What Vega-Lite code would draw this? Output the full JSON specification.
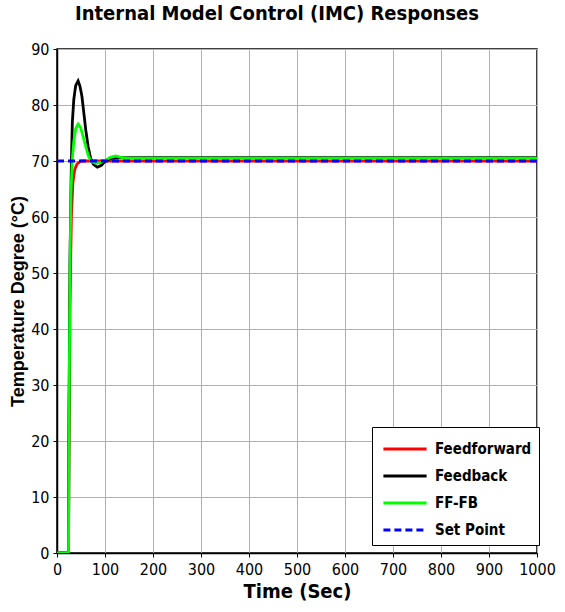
{
  "$schema": "https://vega.github.io/schema/vega-lite/v6.json",
  "width": 480,
  "height": 504,
  "autosize": "none",
  "padding": {"left": 57, "top": 49, "right": 28, "bottom": 59},
  "background": "white",
  "title": {
    "text": "Internal Model Control (IMC) Responses",
    "font": "DejaVu Sans Condensed, Liberation Sans, sans-serif",
    "fontSize": 20,
    "fontWeight": "bold",
    "color": "black",
    "offset": 17,
    "dx": -20
  },
  "config": {
    "view": {"stroke": "black", "strokeWidth": 1.5},
    "axis": {
      "labelFont": "DejaVu Sans Condensed, Liberation Sans, sans-serif",
      "labelFontSize": 16,
      "labelColor": "black",
      "domainColor": "black",
      "domainWidth": 1.5,
      "tickColor": "black",
      "tickSize": 4,
      "gridColor": "#b0b0b0",
      "gridWidth": 1,
      "gridOpacity": 1
    }
  },
  "data": {
    "values": [
      {"t": 0, "v": 0, "s": "Feedforward"},
      {"t": 24, "v": 0, "s": "Feedforward"},
      {"t": 25, "v": 20, "s": "Feedforward"},
      {"t": 27, "v": 45, "s": "Feedforward"},
      {"t": 30, "v": 60, "s": "Feedforward"},
      {"t": 33, "v": 66, "s": "Feedforward"},
      {"t": 37, "v": 68.5, "s": "Feedforward"},
      {"t": 42, "v": 69.5, "s": "Feedforward"},
      {"t": 50, "v": 70, "s": "Feedforward"},
      {"t": 1000, "v": 70, "s": "Feedforward"},

      {"t": 0, "v": 0, "s": "Feedback"},
      {"t": 24, "v": 0, "s": "Feedback"},
      {"t": 25, "v": 25, "s": "Feedback"},
      {"t": 27, "v": 52, "s": "Feedback"},
      {"t": 30, "v": 70, "s": "Feedback"},
      {"t": 32, "v": 77, "s": "Feedback"},
      {"t": 35, "v": 81, "s": "Feedback"},
      {"t": 39, "v": 83.5, "s": "Feedback"},
      {"t": 44, "v": 84.3, "s": "Feedback"},
      {"t": 48, "v": 83.3, "s": "Feedback"},
      {"t": 52, "v": 81.5, "s": "Feedback"},
      {"t": 56, "v": 78.5, "s": "Feedback"},
      {"t": 60, "v": 75.5, "s": "Feedback"},
      {"t": 65, "v": 72.5, "s": "Feedback"},
      {"t": 70, "v": 70.5, "s": "Feedback"},
      {"t": 76, "v": 69.4, "s": "Feedback"},
      {"t": 84, "v": 68.9, "s": "Feedback"},
      {"t": 92, "v": 69.2, "s": "Feedback"},
      {"t": 100, "v": 69.9, "s": "Feedback"},
      {"t": 110, "v": 70.4, "s": "Feedback"},
      {"t": 125, "v": 70.6, "s": "Feedback"},
      {"t": 1000, "v": 70.6, "s": "Feedback"},

      {"t": 0, "v": 0, "s": "FF-FB"},
      {"t": 24, "v": 0, "s": "FF-FB"},
      {"t": 25, "v": 22, "s": "FF-FB"},
      {"t": 27, "v": 50, "s": "FF-FB"},
      {"t": 29, "v": 64, "s": "FF-FB"},
      {"t": 32, "v": 70.5, "s": "FF-FB"},
      {"t": 35, "v": 73.5, "s": "FF-FB"},
      {"t": 39, "v": 75.8, "s": "FF-FB"},
      {"t": 44, "v": 76.6, "s": "FF-FB"},
      {"t": 49, "v": 76, "s": "FF-FB"},
      {"t": 54, "v": 74.5, "s": "FF-FB"},
      {"t": 60, "v": 72.5, "s": "FF-FB"},
      {"t": 66, "v": 70.8, "s": "FF-FB"},
      {"t": 72, "v": 69.9, "s": "FF-FB"},
      {"t": 80, "v": 69.6, "s": "FF-FB"},
      {"t": 90, "v": 69.7, "s": "FF-FB"},
      {"t": 100, "v": 70.1, "s": "FF-FB"},
      {"t": 110, "v": 70.6, "s": "FF-FB"},
      {"t": 122, "v": 70.9, "s": "FF-FB"},
      {"t": 135, "v": 70.6, "s": "FF-FB"},
      {"t": 150, "v": 70.5, "s": "FF-FB"},
      {"t": 1000, "v": 70.5, "s": "FF-FB"},

      {"t": 0, "v": 70, "s": "Set Point"},
      {"t": 1000, "v": 70, "s": "Set Point"}
    ]
  },
  "mark": {"type": "line", "strokeWidth": 2.8, "clip": true},
  "encoding": {
    "x": {
      "field": "t",
      "type": "quantitative",
      "scale": {"domain": [0, 1000], "nice": false},
      "axis": {
        "values": [0, 100, 200, 300, 400, 500, 600, 700, 800, 900, 1000],
        "format": "d",
        "title": "Time (Sec)",
        "titleFont": "DejaVu Sans Condensed, Liberation Sans, sans-serif",
        "titleFontSize": 20,
        "titleFontWeight": "bold",
        "titleColor": "black",
        "titlePadding": 4,
        "labelPadding": 4,
        "labelFlush": false
      }
    },
    "y": {
      "field": "v",
      "type": "quantitative",
      "scale": {"domain": [0, 90], "nice": false, "zero": false},
      "axis": {
        "values": [0, 10, 20, 30, 40, 50, 60, 70, 80, 90],
        "title": "Temperature Degree (°C)",
        "titleFont": "Liberation Sans, sans-serif",
        "titleFontSize": 18,
        "titleFontWeight": "bold",
        "titleColor": "black",
        "titlePadding": 3,
        "labelPadding": 4
      }
    },
    "color": {
      "field": "s",
      "type": "nominal",
      "sort": ["Feedforward", "Feedback", "FF-FB", "Set Point"],
      "scale": {
        "domain": ["Feedforward", "Feedback", "FF-FB", "Set Point"],
        "range": ["#ff0000", "#000000", "#00ff00", "#0000ff"]
      },
      "legend": {
        "title": null,
        "orient": "none",
        "legendX": 315,
        "legendY": 378,
        "padding": 7,
        "strokeColor": "black",
        "fillColor": "white",
        "symbolType": "M-1.6,0H1.6",
        "symbolSize": 729,
        "symbolOffset": 11,
        "symbolStrokeWidth": 3,
        "labelFont": "DejaVu Sans Condensed, Liberation Sans, sans-serif",
        "labelFontSize": 15,
        "labelFontWeight": "bold",
        "labelColor": "black",
        "rowPadding": 4,
        "labelOffset": 15,
        "labelLimit": 200
      }
    },
    "strokeDash": {
      "field": "s",
      "type": "nominal",
      "sort": ["Feedforward", "Feedback", "FF-FB", "Set Point"],
      "scale": {
        "domain": ["Feedforward", "Feedback", "FF-FB", "Set Point"],
        "range": [[1, 0], [1, 0], [1, 0], [7, 4]]
      },
      "legend": null
    }
  }
}
